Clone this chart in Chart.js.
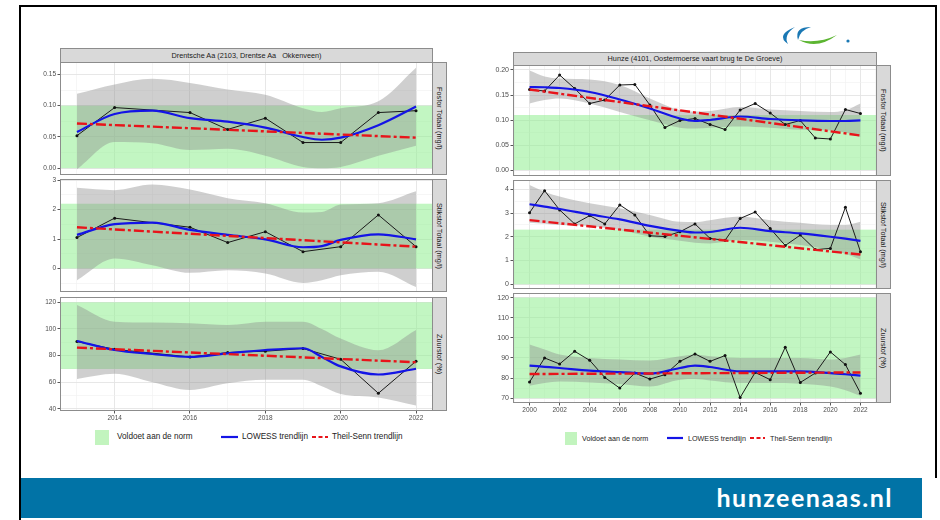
<!DOCTYPE html>
<html><head><meta charset="utf-8">
<script src="https://cdn.jsdelivr.net/npm/chart.js@4.4.1/dist/chart.umd.min.js"></script>
<style>
html,body{margin:0;padding:0;background:#fff;}
body{width:940px;height:520px;position:relative;overflow:hidden;font-family:"Liberation Sans",Arial,sans-serif;}
.abs{position:absolute;}
.strip{position:absolute;background:#d9d9d9;border:1px solid #8c8c8c;box-sizing:border-box;color:#1a1a1a;font-size:7.3px;text-align:center;white-space:nowrap;overflow:hidden;}
.vstrip{position:absolute;background:#d9d9d9;border:1px solid #8c8c8c;box-sizing:border-box;color:#1a1a1a;font-size:7.3px;display:flex;align-items:center;justify-content:center;white-space:nowrap;overflow:hidden;}
.vstrip span{writing-mode:vertical-rl;}
.leg{position:absolute;font-size:8.2px;color:#222;white-space:nowrap;}
.legr{position:absolute;font-size:7.2px;color:#222;white-space:nowrap;}
canvas{position:absolute;}
</style>
</head><body>
<div class="abs" style="left:19px;top:5px;width:918px;height:473px;border:2px solid #000;border-bottom:none;box-sizing:border-box;"></div>
<div class="abs" style="left:19px;top:478px;width:2px;height:42px;background:#000;"></div>
<div class="abs" style="left:21px;top:478px;width:901px;height:40px;background:#0173a6;"></div>
<div class="abs" style="left:600px;top:480px;width:293px;text-align:right;color:#fff;font-family:Lato,'Open Sans',sans-serif;font-weight:bold;font-size:25px;letter-spacing:1.5px;line-height:34px;">hunzeenaas.nl</div>
<svg class="abs" style="left:775px;top:22px" width="80" height="26">
  <path d="M 20 5 Q 0 13 13 22 Q 8 13 20 5 Z" fill="#1a78b4"/>
  <path d="M 36 5 Q 19 5 23 18 Q 25 8 36 5 Z" fill="#1a78b4"/>
  <path d="M 24 18 Q 42 28 62 13 Q 43 22 24 18 Z" fill="#5cb531"/>
  <circle cx="73" cy="19" r="1.6" fill="#1a78b4"/>
</svg>

<div class="strip" style="left:60px;top:48px;width:373px;height:15px;line-height:13px;">Drentsche Aa (2103, Drentse Aa &nbsp; Okkenveen)</div>
<div class="strip" style="left:513px;top:52px;width:364px;height:14px;line-height:12px;">Hunze (4101, Oostermoerse vaart brug te De Groeve)</div>

<div class="vstrip" style="left:432px;top:62px;width:15px;height:113px;"><span>Fosfor Totaal (mg/l)</span></div>
<div class="vstrip" style="left:432px;top:179px;width:15px;height:113px;"><span>Stikstof Totaal (mg/l)</span></div>
<div class="vstrip" style="left:432px;top:297px;width:15px;height:114px;"><span>Zuurstof (%)</span></div>
<div class="vstrip" style="left:876px;top:65px;width:15px;height:111px;"><span>Fosfor Totaal (mg/l)</span></div>
<div class="vstrip" style="left:876px;top:180px;width:15px;height:109px;"><span>Stikstof Totaal (mg/l)</span></div>
<div class="vstrip" style="left:876px;top:293px;width:15px;height:110px;"><span>Zuurstof (%)</span></div>

<div class="abs" style="left:95px;top:430px;width:14px;height:15px;background:rgb(194,244,190);"></div>
<div class="leg" style="left:117px;top:432px;">Voldoet aan de norm</div>
<svg class="abs" style="left:221px;top:432px" width="18" height="10"><line x1="0" y1="5" x2="17" y2="5" stroke="#1414e6" stroke-width="2.2"/></svg>
<div class="leg" style="left:242px;top:432px;">LOWESS trendlijn</div>
<svg class="abs" style="left:312px;top:432px" width="17" height="10"><line x1="0" y1="5" x2="16" y2="5" stroke="#e8141a" stroke-width="2.2" stroke-dasharray="4,2.5"/></svg>
<div class="leg" style="left:332px;top:432px;">Theil-Senn trendlijn</div>

<div class="abs" style="left:565px;top:432px;width:12px;height:13px;background:rgb(194,244,190);"></div>
<div class="legr" style="left:582px;top:434px;">Voldoet aan de norm</div>
<svg class="abs" style="left:667px;top:433px" width="17" height="10"><line x1="0" y1="5" x2="16" y2="5" stroke="#1414e6" stroke-width="2.2"/></svg>
<div class="legr" style="left:688px;top:434px;">LOWESS trendlijn</div>
<svg class="abs" style="left:750px;top:433px" width="16" height="10"><line x1="0" y1="5" x2="15" y2="5" stroke="#e8141a" stroke-width="2.2" stroke-dasharray="4,2.5"/></svg>
<div class="legr" style="left:770px;top:434px;">Theil-Senn trendlijn</div>

<script>
// ---------- Drentsche Aa (left) ----------
const leftYears = [2013, 2014, 2016, 2017, 2018, 2019, 2020, 2021, 2022];
const leftFosfor = [0.052, 0.097, 0.089, 0.062, 0.080, 0.041, 0.041, 0.089, 0.092];
const leftStikstof = [1.05, 1.71, 1.40, 0.88, 1.25, 0.57, 0.74, 1.82, 0.74];
const leftZuurstof = [90.5, 84.7, 79.0, 82.3, 83.3, 85.3, 77.2, 51.7, 75.8];

const leftSmoothYears = [2013, 2014, 2015, 2016, 2017, 2018, 2019, 2019.5, 2020, 2021, 2022];
const leftFosforLowess = [0.058, 0.0867, 0.092, 0.080, 0.0745, 0.065, 0.0498, 0.0455, 0.0488, 0.0688, 0.0986];
const leftFosforUpper = [0.119, 0.134, 0.143, 0.1365, 0.126, 0.1175, 0.096, 0.090, 0.096, 0.107, 0.161];
const leftFosforLower = [-0.002, 0.0417, 0.040, 0.029, 0.031, 0.020, 0.002, 0.000, 0.002, 0.020, 0.036];
const leftStikstofLowess = [1.14, 1.505, 1.56, 1.31, 1.14, 0.99, 0.72, 0.76, 0.97, 1.16, 0.99];
const leftStikstofUpper = [2.74, 2.66, 2.85, 2.68, 2.39, 2.22, 1.90, 1.92, 2.17, 2.22, 2.62];
const leftStikstofLower = [-0.40, 0.34, 0.11, -0.15, -0.06, -0.17, -0.49, -0.40, -0.23, -0.11, -0.63];
const leftZuurstofLowess = [91.0, 84.2, 81.2, 79.0, 81.7, 84.2, 85.5, 79.0, 71.9, 65.8, 70.1];
const leftZuurstofUpper = [118, 105.5, 104.8, 104.2, 103, 105.5, 105.5, 100, 92.8, 84, 99.2];
const leftZuurstofLower = [62.5, 66.3, 60.0, 54.2, 59.2, 61.8, 61.8, 57, 51.2, 48.6, 42.5];

const leftTheilYears = [2013, 2022];
const leftFosforTheil = [0.0715, 0.0488];
const leftStikstofTheil = [1.40, 0.74];
const leftZuurstofTheil = [86, 75];

const leftFosforNorm = [0, 0.10];
const leftStikstofNorm = [0, 2.2];
const leftZuurstofNorm = [70, 120];

// ---------- Hunze (right) ----------
const rightYears = [2000, 2001, 2002, 2003, 2004, 2005, 2006, 2007, 2008, 2009, 2010, 2011, 2012, 2013, 2014, 2015, 2016, 2017, 2018, 2019, 2020, 2021, 2022];
const rightFosfor = [0.161, 0.158, 0.190, 0.163, 0.133, 0.140, 0.170, 0.171, 0.130, 0.085, 0.099, 0.103, 0.091, 0.081, 0.120, 0.133, 0.114, 0.091, 0.099, 0.064, 0.062, 0.121, 0.113];
const rightStikstof = [3.01, 3.94, 3.13, 2.54, 2.89, 2.54, 3.34, 2.92, 2.04, 2.01, 2.21, 2.54, 1.93, 1.85, 2.77, 3.04, 2.35, 1.63, 2.07, 1.46, 1.51, 3.24, 1.37];
const rightZuurstof = [78.0, 90.0, 87.0, 93.3, 88.8, 80.3, 75.0, 82.5, 79.5, 81.7, 88.3, 92.0, 88.3, 91.2, 70.3, 82.8, 79.2, 95.3, 77.8, 82.5, 93.0, 86.7, 72.5];

const rightSmoothYears = [2000, 2001, 2002, 2004, 2006, 2008, 2010, 2011, 2012, 2014, 2016, 2018, 2020, 2021, 2022];
const rightFosforLowess = [0.166, 0.1655, 0.164, 0.156, 0.141, 0.123, 0.103, 0.098, 0.100, 0.107, 0.102, 0.0993, 0.098, 0.098, 0.0993];
const rightFosforUpper = [0.199, 0.187, 0.183, 0.181, 0.170, 0.143, 0.1195, 0.117, 0.118, 0.126, 0.121, 0.118, 0.116, 0.1195, 0.133];
const rightFosforLower = [0.133, 0.140, 0.143, 0.133, 0.116, 0.0993, 0.0846, 0.083, 0.0846, 0.087, 0.0846, 0.0805, 0.079, 0.075, 0.0658];
const rightStikstofLowess = [3.37, 3.27, 3.17, 2.94, 2.73, 2.46, 2.25, 2.18, 2.20, 2.38, 2.24, 2.14, 2.00, 1.92, 1.83];
const rightStikstofUpper = [4.18, 3.90, 3.69, 3.41, 3.20, 2.92, 2.63, 2.62, 2.70, 2.85, 2.70, 2.59, 2.49, 2.49, 2.63];
const rightStikstofLower = [2.59, 2.55, 2.49, 2.45, 2.28, 2.00, 1.83, 1.75, 1.72, 1.86, 1.79, 1.65, 1.44, 1.28, 1.04];
const rightZuurstofLowess = [86.2, 85.6, 85.0, 83.7, 83.0, 82.2, 85.0, 86.2, 85.5, 83.3, 83.3, 83.3, 82.5, 81.9, 81.2];
const rightZuurstofUpper = [96.7, 94.2, 91.7, 90.0, 89.2, 88.7, 90.8, 91.7, 90.8, 90.0, 90.0, 90.0, 89.2, 90.0, 91.7];
const rightZuurstofLower = [76.2, 77.5, 78.3, 77.8, 77.0, 75.8, 79.2, 79.5, 78.8, 77.5, 77.5, 77.2, 75.8, 74.0, 71.2];

const rightTheilYears = [2000, 2022];
const rightFosforTheil = [0.161, 0.069];
const rightStikstofTheil = [2.70, 1.25];
const rightZuurstofTheil = [82.0, 82.8];

const rightFosforNorm = [0, 0.11];
const rightStikstofNorm = [0, 2.3];
const rightZuurstofNorm = [70, 120];

// ---------- drawing ----------
const GREEN = 'rgba(144,238,144,0.55)';
const RIBBON = 'rgba(140,140,140,0.42)';

function isMult(v, step) { const r = v / step; return Math.abs(r - Math.round(r)) < 1e-6; }
const pts = (xs, ys) => xs.map((x, i) => ({ x: x, y: ys[i] }));

function makePanel(c) {
  const YW = c.yw, padT = 8, padR = 6, padB = 6, XH = c.showX ? c.xh : 0;
  const W = c.w + YW + padR, H = c.h + padT + padB + XH;
  const cv = document.createElement('canvas');
  cv.width = W; cv.height = H;
  cv.style.left = (c.x - YW) + 'px'; cv.style.top = (c.y - padT) + 'px';
  cv.style.width = W + 'px'; cv.style.height = H + 'px';
  document.body.appendChild(cv);
  const plug = {
    id: 'bandBorder',
    beforeDatasetsDraw(chart) {
      const a = chart.chartArea, y = chart.scales.y, ctx = chart.ctx;
      const t = y.getPixelForValue(c.norm[1]), b = y.getPixelForValue(c.norm[0]);
      ctx.save(); ctx.fillStyle = GREEN; ctx.fillRect(a.left, t, a.right - a.left, b - t); ctx.restore();
    },
    afterDatasetsDraw(chart) {
      const a = chart.chartArea, ctx = chart.ctx;
      ctx.save(); ctx.strokeStyle = '#8c8c8c'; ctx.lineWidth = 1;
      ctx.strokeRect(a.left + 0.5, a.top + 0.5, a.right - a.left - 1, a.bottom - a.top - 1); ctx.restore();
    }
  };
  new Chart(cv, {
    type: 'line',
    data: { datasets: [
      { data: pts(c.sx, c.upper), borderWidth: 0, borderColor: 'rgba(0,0,0,0)', pointRadius: 0, fill: '+1', backgroundColor: RIBBON, cubicInterpolationMode: 'monotone', order: 5 },
      { data: pts(c.sx, c.lower), borderWidth: 0, borderColor: 'rgba(0,0,0,0)', pointRadius: 0, fill: false, cubicInterpolationMode: 'monotone', order: 4 },
      { data: pts(c.years, c.vals), borderColor: '#1a1a1a', borderWidth: 1, pointRadius: 1.5, pointBackgroundColor: '#111', pointBorderWidth: 0, fill: false, tension: 0, order: 3 },
      { data: pts(c.sx, c.lowess), borderColor: '#1414e6', borderWidth: 2.2, pointRadius: 0, fill: false, cubicInterpolationMode: 'monotone', order: 2 },
      { data: pts(c.tx, c.theil), borderColor: '#e8141a', borderWidth: 2.4, borderDash: [10, 3, 3, 3], pointRadius: 0, fill: false, order: 1 }
    ]},
    options: {
      responsive: false, animation: false, events: [],
      layout: { padding: { top: padT, right: padR, bottom: padB, left: 0 } },
      plugins: { legend: { display: false }, tooltip: { enabled: false } },
      scales: {
        x: {
          type: 'linear', min: c.xmin, max: c.xmax,
          afterFit(s) { s.height = XH; s.paddingLeft = 0; s.paddingRight = 0; },
          border: { display: false },
          ticks: { stepSize: 1, includeBounds: false, autoSkip: false, maxRotation: 0, minRotation: 0, display: c.showX, padding: 1,
            color: '#4d4d4d', font: { size: c.xfs, family: 'Liberation Sans' },
            callback: v => isMult(v, 2) ? String(Math.round(v)) : '' },
          grid: { color: ctx => isMult(ctx.tick.value, 2) ? '#e4e4e4' : '#f0f0f0', lineWidth: ctx => isMult(ctx.tick.value, 2) ? 0.9 : 0.6,
            drawTicks: c.showX, tickLength: 2.5, tickColor: ctx => isMult(ctx.tick.value, 2) ? '#444' : 'rgba(0,0,0,0)' }
        },
        y: {
          min: c.ymin, max: c.ymax,
          afterFit(s) { s.width = YW; s.paddingTop = 0; s.paddingBottom = 0; },
          border: { display: false },
          ticks: { stepSize: c.ymajor / 2, includeBounds: false, autoSkip: false, padding: 1.5,
            color: '#4d4d4d', font: { size: c.yfs, family: 'Liberation Sans' },
            callback: v => isMult(v, c.ymajor) ? c.fmt(v) : '' },
          grid: { color: ctx => isMult(ctx.tick.value, c.ymajor) ? '#e4e4e4' : '#f0f0f0', lineWidth: ctx => isMult(ctx.tick.value, c.ymajor) ? 0.9 : 0.6,
            drawTicks: true, tickLength: 2.5, tickColor: ctx => isMult(ctx.tick.value, c.ymajor) ? '#444' : 'rgba(0,0,0,0)' }
        }
      }
    },
    plugins: [plug]
  });
}

const f2 = v => (Math.abs(v) < 1e-9 ? 0 : v).toFixed(2);
const f0 = v => String(Math.round(v));

const L = { x: 60, w: 373, yw: 40, xmin: 2012.55, xmax: 2022.45, xh: 12, xfs: 6.5, yfs: 6.5,
  years: leftYears, sx: leftSmoothYears, tx: leftTheilYears };
makePanel(Object.assign({}, L, { y: 62, h: 113, showX: false, ymin: -0.011, ymax: 0.170, ymajor: 0.05, fmt: f2,
  vals: leftFosfor, lowess: leftFosforLowess, upper: leftFosforUpper, lower: leftFosforLower, theil: leftFosforTheil, norm: leftFosforNorm }));
makePanel(Object.assign({}, L, { y: 179, h: 113, showX: false, ymin: -0.80, ymax: 3.04, ymajor: 1, fmt: f0,
  vals: leftStikstof, lowess: leftStikstofLowess, upper: leftStikstofUpper, lower: leftStikstofLower, theil: leftStikstofTheil, norm: leftStikstofNorm }));
makePanel(Object.assign({}, L, { y: 297, h: 114, showX: true, ymin: 38.4, ymax: 124, ymajor: 20, fmt: f0,
  vals: leftZuurstof, lowess: leftZuurstofLowess, upper: leftZuurstofUpper, lower: leftZuurstofLower, theil: leftZuurstofTheil, norm: leftZuurstofNorm }));

const R = { x: 513, w: 364, yw: 40, xmin: 1998.9, xmax: 2023.1, xh: 12, xfs: 6.5, yfs: 7,
  years: rightYears, sx: rightSmoothYears, tx: rightTheilYears };
makePanel(Object.assign({}, R, { y: 65, h: 111, showX: false, ymin: -0.012, ymax: 0.21, ymajor: 0.05, fmt: f2,
  vals: rightFosfor, lowess: rightFosforLowess, upper: rightFosforUpper, lower: rightFosforLower, theil: rightFosforTheil, norm: rightFosforNorm }));
makePanel(Object.assign({}, R, { y: 180, h: 109, showX: false, ymin: -0.2, ymax: 4.39, ymajor: 1, fmt: f0,
  vals: rightStikstof, lowess: rightStikstofLowess, upper: rightStikstofUpper, lower: rightStikstofLower, theil: rightStikstofTheil, norm: rightStikstofNorm }));
makePanel(Object.assign({}, R, { y: 293, h: 110, showX: true, ymin: 67.6, ymax: 122.3, ymajor: 10, fmt: f0,
  vals: rightZuurstof, lowess: rightZuurstofLowess, upper: rightZuurstofUpper, lower: rightZuurstofLower, theil: rightZuurstofTheil, norm: rightZuurstofNorm }));
</script>
</body></html>
